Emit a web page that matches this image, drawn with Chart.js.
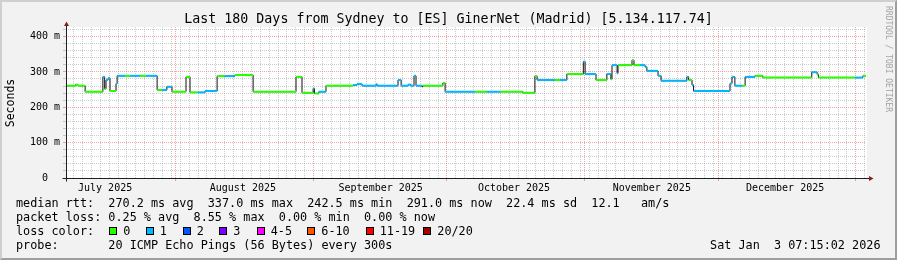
<!DOCTYPE html>
<html>
<head>
<meta charset="utf-8">
<script src="https://cdn.jsdelivr.net/npm/chart.js@4.4.1/dist/chart.umd.min.js"></script>
<style>
  body { margin: 0; background: #f2f2f2; }
  #frame { position: relative; width: 897px; height: 260px; overflow: hidden; background: #f2f2f2;
           font-family: "DejaVu Sans Mono", monospace; color: #000; }
  #frame canvas { position: absolute; left: 0; top: 0; }
  .txt { position: absolute; white-space: pre; }
  #title { left: 0; width: 897px; top: 10.7px; font-size: 13.3px; line-height: 16px; text-align: center; }
  #ylabel { left: -59.7px; top: 95.5px; width: 140px; height: 14px; font-size: 11.5px; line-height: 14px;
            text-align: center; transform: rotate(-90deg); }
  #mark { left: 822.8px; top: 54px; width: 130px; height: 10px; font-size: 8px; line-height: 10px;
          text-align: center; color: #a3a3a3; transform: rotate(90deg); }
  .row { left: 16px; font-size: 11.8px; line-height: 14px; }
  .lc { position: absolute; top: 0; }
  .box { display: inline-block; width: 6px; height: 6px; border: 1px solid #000; margin-right: 6px; }
  #stamp { right: 16.5px; top: 238px; font-size: 11.8px; line-height: 14px; }
  #shade { position: absolute; left: 0; top: 0; width: 897px; height: 260px; box-sizing: border-box;
           border: 2px solid; border-color: #cfcfcf #9e9e9e #9e9e9e #cfcfcf; pointer-events: none; }
</style>
</head>
<body>
<div id="frame">
  <canvas id="chartRtt" width="897" height="260"></canvas>
  <div class="txt" id="title">Last 180 Days from Sydney to [ES] GinerNet (Madrid) [5.134.117.74]</div>
  <div class="txt" id="ylabel">Seconds</div>
  <div class="txt" id="mark">RRDTOOL / TOBI OETIKER</div>
  <div class="txt row" style="top:196px">median rtt:  270.2 ms avg  337.0 ms max  242.5 ms min  291.0 ms now  22.4 ms sd  12.1   am/s</div>
  <div class="txt row" style="top:210px">packet loss: 0.25 % avg  8.55 % max  0.00 % min  0.00 % now</div>
  <div class="txt row" id="lossRow" style="top:224px;width:860px;height:14px">loss color:</div>
  <div class="txt row" style="top:238px">probe:       20 ICMP Echo Pings (56 Bytes) every 300s</div>
  <div class="txt" id="stamp">Sat Jan  3 07:15:02 2026</div>
  <div id="shade"></div>
</div>
<script>
// x values are days counted from 1 July 2025 00:00
const dayMin = 6.3;
const dayMax = 186.3;
const monthStarts = [31, 62, 92, 123, 153, 184];
const monthLabelDays = [0, 31, 62, 92, 123, 153];
const monthLabels = ['July 2025', 'August 2025', 'September 2025', 'October 2025', 'November 2025', 'December 2025'];

const yMajor = [0, 100, 200, 300, 400];
const yMajorLabels = ['0  ', '100 m', '200 m', '300 m', '400 m'];

// median rtt steps (ms) and packet loss count for each step
const stepDay = [
  6.3, 8.5, 9.0, 10.6, 14.6, 15.0, 15.3, 15.75, 16.2, 17.55,
  17.8, 19.6, 20.7, 23.0, 24.3, 26.8, 27.9, 29.0, 30.15, 33.3,
  34.2, 36.0, 37.6, 40.3, 42.0, 44.3, 48.4, 58.05, 59.4, 61.9,
  62.2, 63.2, 64.8, 70.9, 71.8, 72.9, 76.05, 76.3, 81.0, 81.7,
  83.25, 83.9, 84.6, 85.05, 86.4, 86.6, 91.1, 91.6, 98.3, 101.0,
  104.0, 109.1, 111.8, 112.3, 116.3, 117.45, 119.0, 122.7, 123.1, 125.55,
  128.0, 128.9, 129.15, 130.3, 130.5, 133.65, 134.1, 135.45, 136.6, 137.0,
  139.5, 140.2, 146.0, 146.4, 147.15, 147.5, 155.7, 156.15, 156.8, 158.4,
  159.1, 161.3, 163.1, 174.1, 175.3, 175.6, 183.8, 185.6
];
const medianRtt = [
  261, 264, 261, 244, 286, 252, 277, 282, 246, 267,
  289, 289, 289, 289, 289, 249, 249, 258, 244, 286,
  242, 242, 246, 288, 288, 291, 244, 286, 241, 253,
  239, 244, 261, 263, 266, 261, 265, 261, 277, 261,
  264, 261, 289, 261, 258, 261, 269, 244, 244, 244,
  244, 241, 288, 277, 277, 277, 294, 329, 294, 277,
  294, 279, 319, 296, 319, 333, 319, 319, 314, 303,
  289, 275, 286, 277, 263, 246, 267, 286, 261, 261,
  286, 289, 284, 299, 293, 284, 284, 289
];
const lossCount = [
  0, 0, 0, 0, 1, 0, 1, 1, 0, 1,
  1, 0, 1, 0, 1, 0, 1, 1, 0, 0,
  0, 1, 1, 0, 1, 0, 0, 0, 0, 1,
  0, 1, 0, 1, 1, 1, 1, 1, 1, 1,
  1, 1, 1, 1, 1, 0, 0, 1, 0, 1,
  0, 0, 0, 1, 0, 1, 0, 1, 1, 0,
  1, 0, 1, 1, 0, 0, 0, 1, 1, 1,
  1, 1, 1, 0, 1, 1, 1, 1, 1, 0,
  1, 0, 0, 1, 0, 0, 1, 0
];

const lossLabels = ['0', '1', '2', '3', '4-5', '6-10', '11-19', '20/20'];
const lossColors = ['#26ff00', '#00b8ff', '#0059ff', '#7e00ff', '#ff00ff', '#ff5500', '#ff0000', '#a10000'];
const lossBoxX = [93.3, 129.7, 166.7, 203.3, 240.7, 291.3, 349.7, 407.3];

// legend row with the colour boxes
const lossRow = document.getElementById('lossRow');
lossLabels.forEach((lab, i) => {
  const s = document.createElement('span');
  s.className = 'lc';
  s.style.left = lossBoxX[i] + 'px';
  s.innerHTML = '<span class="box" style="background:' + lossColors[i] + '"></span>' + lab;
  lossRow.appendChild(s);
});

const gridDays = [];
const gridMajor = [];
for (let d = 8; d <= 186; d += 2) {
  if (!monthStarts.includes(d)) { gridDays.push(d); gridMajor.push(false); }
}
monthStarts.forEach(d => { gridDays.push(d); gridMajor.push(true); });

const yGrid = [];
for (let v = 0; v <= 420; v += 20) yGrid.push(v);

const minorGrid = 'rgba(143,143,143,0.45)';
const majorGrid = 'rgba(222,79,79,0.5)';

const blackLine = stepDay.map((d, i) => ({x: d, y: medianRtt[i]}));
blackLine.push({x: dayMax, y: medianRtt[medianRtt.length - 1]});

const colorLine = [];
stepDay.forEach((d, i) => {
  const end = i + 1 < stepDay.length ? stepDay[i + 1] : dayMax;
  colorLine.push({x: d, y: medianRtt[i]}, {x: end, y: medianRtt[i]}, {x: end, y: null});
});

const frame = {
  id: 'frame',
  beforeDraw(chart) {
    const {ctx, chartArea: a} = chart;
    ctx.save();
    ctx.fillStyle = '#f2f2f2';
    ctx.fillRect(0, 0, chart.width, chart.height);
    ctx.fillStyle = '#ffffff';
    ctx.fillRect(a.left, a.top, a.right - a.left + 1, a.bottom - a.top);
    ctx.restore();
  },
  afterDatasetsDraw(chart) {
    const {ctx, chartArea: a} = chart;
    const x0 = Math.round(a.left) + 0.5;
    const y0 = Math.round(a.bottom) + 0.5;
    ctx.save();
    ctx.strokeStyle = '#1f1f1f';
    ctx.lineWidth = 1;
    ctx.beginPath();
    ctx.moveTo(x0 - 4, y0);
    ctx.lineTo(a.right + 3, y0);
    ctx.moveTo(x0, y0 + 3);
    ctx.lineTo(x0, a.top - 1);
    ctx.stroke();
    ctx.fillStyle = '#801f1f';
    ctx.beginPath();
    ctx.moveTo(a.right + 3, y0 - 2.5);
    ctx.lineTo(a.right + 7.5, y0);
    ctx.lineTo(a.right + 3, y0 + 2.5);
    ctx.fill();
    ctx.beginPath();
    ctx.moveTo(x0 - 2.5, a.top - 1);
    ctx.lineTo(x0, a.top - 5.5);
    ctx.lineTo(x0 + 2.5, a.top - 1);
    ctx.fill();
    ctx.restore();
  }
};

const tickFont = {family: 'DejaVu Sans Mono', size: 10};

new Chart(document.getElementById('chartRtt'), {
  type: 'line',
  data: {
    datasets: [{
      data: colorLine,
      borderWidth: 2,
      borderColor: lossColors[0],
      segment: {
        borderColor: c => lossColors[lossCount[Math.floor(c.p0DataIndex / 3)]]
      },
      spanGaps: false,
      pointRadius: 0,
      borderCapStyle: 'butt',
      order: 0
    }, {
      data: blackLine,
      stepped: 'before',
      borderWidth: 1,
      borderColor: '#111111',
      pointRadius: 0,
      order: 1
    }]
  },
  options: {
    responsive: false,
    animation: false,
    events: [],
    layout: {padding: {top: 27, right: 31, left: 0, bottom: 0}},
    plugins: {legend: {display: false}, tooltip: {enabled: false}},
    scales: {
      x: {
        type: 'linear',
        min: dayMin,
        max: dayMax,
        afterBuildTicks: s => { s.ticks = gridDays.map(v => ({value: v})); },
        afterFit: s => { s.height = 0; },
        ticks: {display: false, autoSkip: false},
        grid: {
          color: c => gridMajor[c.index] ? majorGrid : minorGrid,
          tickColor: c => gridMajor[c.index] ? majorGrid : 'rgba(0,0,0,0)',
          tickLength: 3
        },
        border: {display: false, dash: [1, 1]}
      },
      xLabels: {
        type: 'linear',
        position: 'bottom',
        min: dayMin,
        max: dayMax,
        afterBuildTicks: s => { s.ticks = monthLabelDays.map(v => ({value: v + 15.1})); },
        afterFit: s => { s.height = 82; },
        ticks: {
          autoSkip: false,
          maxRotation: 0,
          padding: -4,
          color: '#000',
          font: tickFont,
          callback: (v, i) => monthLabels[i]
        },
        grid: {display: false},
        border: {display: false}
      },
      y: {
        min: 0,
        max: 427,
        afterBuildTicks: s => { s.ticks = yGrid.map(v => ({value: v})); },
        afterFit: s => { s.width = 66; },
        ticks: {
          autoSkip: false,
          padding: 3,
          color: '#000',
          font: tickFont,
          callback: v => {
            const k = yMajor.indexOf(v);
            return k >= 0 ? yMajorLabels[k] : '';
          }
        },
        grid: {
          color: c => yMajor.includes(c.tick.value) ? majorGrid : minorGrid,
          tickLength: 3
        },
        border: {display: false, dash: [1, 1]}
      }
    }
  },
  plugins: [frame]
});
</script>
</body>
</html>
